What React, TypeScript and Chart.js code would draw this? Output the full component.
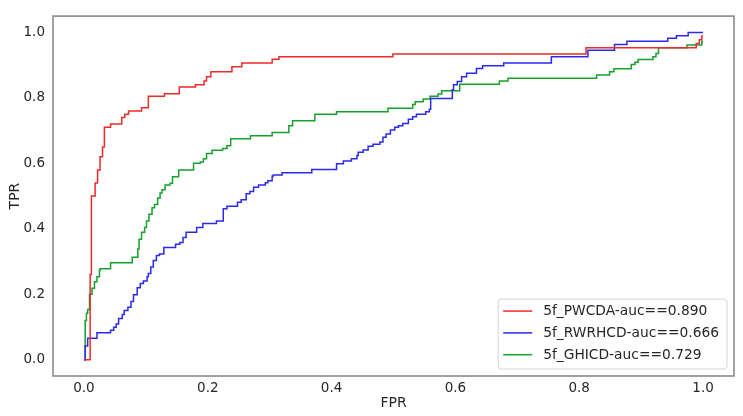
import React, { useEffect, useRef } from "react";
import { Chart, registerables } from "chart.js";

Chart.register(...registerables);

// ---- data (FPR / TPR step points: x where the rise occurs, y after the rise) ----
const pwcdaFpr = [0, 0.01, 0.012, 0.018, 0.022, 0.026, 0.03, 0.033, 0.043, 0.061, 0.066, 0.072, 0.093, 0.104, 0.13, 0.154, 0.18, 0.194, 0.198, 0.205, 0.239, 0.255, 0.304, 0.315, 0.499, 0.811, 0.989, 0.994, 0.998, 1.0];
const pwcdaTpr = [0, 0.26, 0.5, 0.54, 0.58, 0.62, 0.65, 0.71, 0.72, 0.74, 0.75, 0.76, 0.77, 0.805, 0.813, 0.833, 0.84, 0.852, 0.865, 0.88, 0.895, 0.907, 0.918, 0.926, 0.934, 0.953, 0.966, 0.978, 0.989, 0.989];

const rwrhcdFpr = [0, 0.002, 0.006, 0.021, 0.043, 0.048, 0.052, 0.056, 0.062, 0.065, 0.071, 0.076, 0.08, 0.086, 0.091, 0.096, 0.102, 0.104, 0.108, 0.112, 0.117, 0.122, 0.129, 0.148, 0.155, 0.16, 0.165, 0.182, 0.192, 0.214, 0.225, 0.231, 0.248, 0.254, 0.262, 0.268, 0.274, 0.282, 0.293, 0.297, 0.304, 0.306, 0.32, 0.368, 0.408, 0.419, 0.432, 0.441, 0.443, 0.451, 0.459, 0.467, 0.478, 0.483, 0.488, 0.495, 0.502, 0.508, 0.515, 0.524, 0.531, 0.537, 0.552, 0.558, 0.56, 0.595, 0.597, 0.603, 0.61, 0.618, 0.634, 0.644, 0.678, 0.755, 0.814, 0.857, 0.877, 0.943, 0.957, 0.976, 1.0];
const rwrhcdTpr = [0, 0.042, 0.065, 0.082, 0.09, 0.099, 0.109, 0.126, 0.138, 0.15, 0.16, 0.178, 0.198, 0.22, 0.233, 0.24, 0.253, 0.263, 0.283, 0.303, 0.318, 0.323, 0.343, 0.353, 0.358, 0.373, 0.389, 0.404, 0.416, 0.424, 0.461, 0.469, 0.481, 0.489, 0.507, 0.514, 0.527, 0.534, 0.541, 0.547, 0.561, 0.564, 0.571, 0.581, 0.599, 0.607, 0.614, 0.624, 0.634, 0.641, 0.652, 0.658, 0.665, 0.68, 0.69, 0.702, 0.71, 0.715, 0.722, 0.735, 0.742, 0.75, 0.758, 0.765, 0.798, 0.825, 0.84, 0.85, 0.865, 0.875, 0.89, 0.898, 0.907, 0.926, 0.946, 0.963, 0.973, 0.982, 0.99, 1.0, 1.0];

const ghicdFpr = [0, 0.002, 0.004, 0.006, 0.009, 0.013, 0.017, 0.021, 0.025, 0.026, 0.043, 0.078, 0.087, 0.089, 0.093, 0.098, 0.101, 0.105, 0.11, 0.114, 0.119, 0.123, 0.126, 0.131, 0.139, 0.143, 0.153, 0.177, 0.188, 0.193, 0.198, 0.207, 0.224, 0.231, 0.237, 0.269, 0.304, 0.331, 0.337, 0.373, 0.408, 0.491, 0.531, 0.535, 0.548, 0.559, 0.572, 0.578, 0.607, 0.671, 0.685, 0.828, 0.849, 0.856, 0.884, 0.89, 0.895, 0.919, 0.924, 0.928, 0.974, 0.998, 1.0];
const ghicdTpr = [0, 0.12, 0.142, 0.153, 0.2, 0.218, 0.238, 0.253, 0.273, 0.278, 0.296, 0.313, 0.338, 0.368, 0.389, 0.404, 0.424, 0.444, 0.464, 0.474, 0.494, 0.509, 0.519, 0.534, 0.539, 0.559, 0.58, 0.6, 0.604, 0.614, 0.63, 0.64, 0.645, 0.654, 0.675, 0.684, 0.694, 0.715, 0.73, 0.75, 0.758, 0.768, 0.78, 0.788, 0.797, 0.805, 0.812, 0.822, 0.842, 0.852, 0.86, 0.87, 0.88, 0.889, 0.902, 0.909, 0.917, 0.926, 0.936, 0.953, 0.962, 0.972, 0.972];

const seriesLabels = ["5f_PWCDA-auc==0.890", "5f_RWRHCD-auc==0.666", "5f_GHICD-auc==0.729"];
const seriesColors = ["#ee2a2a", "#2a2aee", "#16a02c"];
const xTicks = [0, 0.2, 0.4, 0.6, 0.8, 1.0];
const yTicks = [0, 0.2, 0.4, 0.6, 0.8, 1.0];

const toPoints = (xs: number[], ys: number[]) => xs.map((x, i) => ({ x, y: ys[i] }));

const FONT = "'DejaVu Sans', sans-serif";
const TEXT = "#262626";

const framePlugin = {
  id: "frame",
  afterDatasetsDraw(chart: any) {
    const { ctx, chartArea } = chart;
    ctx.save();
    ctx.strokeStyle = "#8a8a8a";
    ctx.lineWidth = 1.6;
    ctx.strokeRect(chartArea.left, chartArea.top, chartArea.right - chartArea.left, chartArea.bottom - chartArea.top);
    ctx.restore();
  },
};

const legendPlugin = {
  id: "innerLegend",
  afterDraw(chart: any) {
    const { ctx, chartArea } = chart;
    const ds = chart.data.datasets;
    ctx.save();
    ctx.font = `13.8px ${FONT}`;
    let maxW = 0;
    ds.forEach((d: any) => { maxW = Math.max(maxW, ctx.measureText(d.label).width); });
    const rowH = 21.8;
    const boxW = 45 + maxW + 8;
    const boxH = rowH * ds.length + 4.5;
    const right = chartArea.right - 7;
    const bottom = chartArea.bottom - 7;
    const left = right - boxW;
    const top = bottom - boxH;
    const r = 3;
    ctx.beginPath();
    ctx.moveTo(left + r, top);
    ctx.lineTo(left + boxW - r, top);
    ctx.quadraticCurveTo(left + boxW, top, left + boxW, top + r);
    ctx.lineTo(left + boxW, top + boxH - r);
    ctx.quadraticCurveTo(left + boxW, top + boxH, left + boxW - r, top + boxH);
    ctx.lineTo(left + r, top + boxH);
    ctx.quadraticCurveTo(left, top + boxH, left, top + boxH - r);
    ctx.lineTo(left, top + r);
    ctx.quadraticCurveTo(left, top, left + r, top);
    ctx.closePath();
    ctx.fillStyle = "rgba(255,255,255,0.85)";
    ctx.fill();
    ctx.strokeStyle = "#d6d6d6";
    ctx.lineWidth = 1;
    ctx.stroke();
    ds.forEach((d: any, i: number) => {
      const cy = top + 12 + i * rowH;
      ctx.strokeStyle = d.borderColor;
      ctx.lineWidth = 1.5;
      ctx.beginPath();
      ctx.moveTo(left + 5, cy);
      ctx.lineTo(left + 34, cy);
      ctx.stroke();
      ctx.fillStyle = TEXT;
      ctx.textBaseline = "middle";
      ctx.textAlign = "left";
      ctx.fillText(d.label, left + 45, cy + 0.5);
    });
    ctx.restore();
  },
};

export default function App() {
  const ref = useRef<HTMLCanvasElement | null>(null);

  useEffect(() => {
    if (!ref.current) return;
    const data = [
      toPoints(pwcdaFpr, pwcdaTpr),
      toPoints(rwrhcdFpr, rwrhcdTpr),
      toPoints(ghicdFpr, ghicdTpr),
    ];
    const chart = new Chart(ref.current, {
      type: "line",
      data: {
        datasets: data.map((pts, i) => ({
          label: seriesLabels[i],
          data: pts,
          borderColor: seriesColors[i],
          backgroundColor: seriesColors[i],
          borderWidth: 1.5,
          pointRadius: 0,
          pointHoverRadius: 0,
          stepped: "before" as const,
          fill: false,
        })),
      },
      options: {
        animation: false,
        responsive: false,
        maintainAspectRatio: false,
        devicePixelRatio: 1,
        parsing: false as any,
        layout: { padding: { left: 0, top: 11, right: 9, bottom: 0 } },
        plugins: {
          legend: { display: false },
          tooltip: { enabled: false },
        },
        scales: {
          x: {
            type: "linear",
            min: -0.05,
            max: 1.05,
            grid: { display: false, drawTicks: false },
            border: { display: false },
            afterBuildTicks: (axis: any) => { axis.ticks = xTicks.map((v) => ({ value: v })); },
            afterFit: (axis: any) => { axis.height = 40; },
            ticks: {
              autoSkip: false,
              maxRotation: 0,
              padding: 4,
              color: TEXT,
              font: { family: FONT, size: 13.5 },
              callback: (v: any) => Number(v).toFixed(1),
            },
            title: {
              display: true,
              text: "FPR",
              color: TEXT,
              font: { family: FONT, size: 14 },
              padding: { top: 0, bottom: 4 },
            },
          },
          y: {
            type: "linear",
            min: -0.05,
            max: 1.05,
            grid: { display: false, drawTicks: false },
            border: { display: false },
            afterBuildTicks: (axis: any) => { axis.ticks = yTicks.map((v) => ({ value: v })); },
            afterFit: (axis: any) => { axis.width = 53; },
            ticks: {
              autoSkip: false,
              padding: 8,
              color: TEXT,
              font: { family: FONT, size: 13.5 },
              callback: (v: any) => Number(v).toFixed(1),
            },
            title: {
              display: true,
              text: "TPR",
              color: TEXT,
              font: { family: FONT, size: 14 },
              padding: { top: 7, bottom: 0 },
            },
          },
        },
      },
      plugins: [framePlugin, legendPlugin],
    });
    return () => chart.destroy();
  }, []);

  return (
    <div style={{ position: "absolute", left: 0, top: 0, width: 743, height: 416, background: "#fff" }}>
      <canvas ref={ref} width={743} height={416} style={{ width: 743, height: 416, display: "block" }} />
    </div>
  );
}
